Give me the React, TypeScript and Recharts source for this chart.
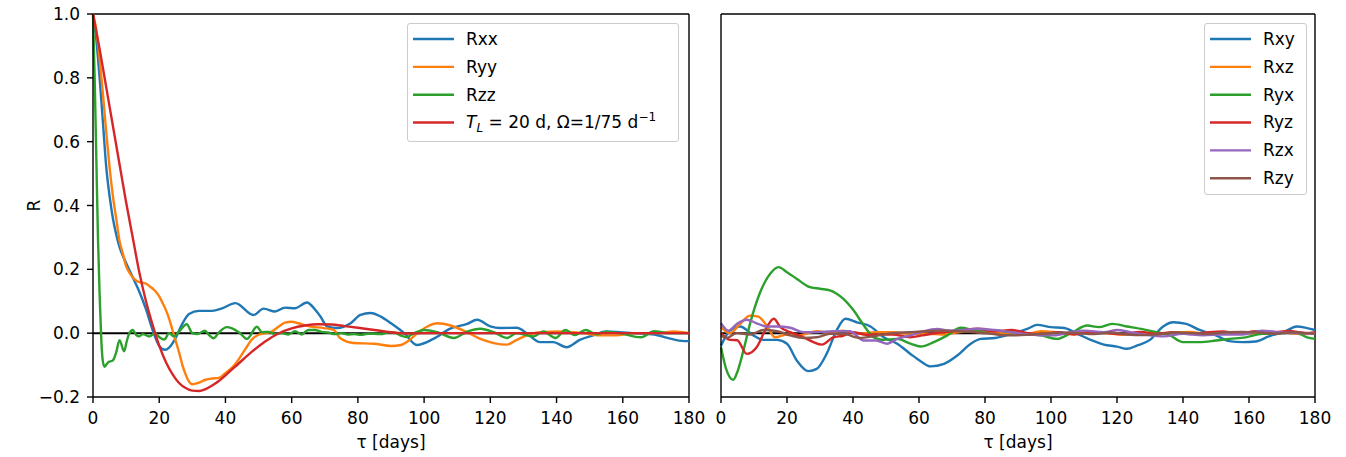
import React from 'react';
import { LineChart, Line, XAxis, YAxis, ReferenceLine, Label } from 'recharts';

const FONT = '"DejaVu Sans", sans-serif';

// ---------- axis ticks ----------
const xTicks = [0, 20, 40, 60, 80, 100, 120, 140, 160, 180];
const yTicks = [-0.2, 0, 0.2, 0.4, 0.6, 0.8, 1.0];

// ---------- left panel: diagonal components ----------
const rxxT = [0,1,2,3,4,5,6,7,8,10,12,14,16,18,20,21.7,23,24.7,27,29,32,36,39,43,48.5,51.5,55,58,61,64.6,67,68.7,70.7,73.7,77.8,80.8,83.8,86.9,90,94,97.8,102.8,107.9,113,116,120,123,128,131,135,139,143,147,151,155,159,163,169.5,173.5,178.6,180];
const rxxR = [1.0,0.92,0.8,0.66,0.52,0.43,0.36,0.31,0.27,0.22,0.175,0.13,0.075,0.01,-0.04,-0.052,-0.045,-0.02,0.03,0.06,0.07,0.07,0.078,0.094,0.057,0.077,0.068,0.08,0.078,0.096,0.075,0.052,0.021,0.016,0.031,0.057,0.063,0.052,0.031,0.0,-0.037,-0.018,0.014,0.029,0.042,0.021,0.016,0.017,0.0,-0.028,-0.028,-0.044,-0.021,-0.007,0.005,0.003,0.0,-0.004,-0.015,-0.025,-0.025];

const ryyT = [0,1,2,3,4,5,6,7,8,9,10,11,12,13,14,15,16,17,18,19,20,21,22,23,24,25,26,27,28,29,30,32,34,36,38,40,42,44,46,48,50,52,54,56,58,60,62,65.7,69.7,72.7,74.7,78.8,84.8,90,93,96,98,101,104,108,113,117,121,125,128,131,135,141,148,153,158,163,170,175.5,180];
const ryyR = [1.0,0.95,0.86,0.75,0.63,0.52,0.43,0.36,0.29,0.25,0.21,0.19,0.175,0.165,0.16,0.158,0.155,0.148,0.14,0.13,0.115,0.095,0.073,0.045,0.01,-0.025,-0.06,-0.1,-0.13,-0.152,-0.16,-0.155,-0.146,-0.142,-0.14,-0.125,-0.108,-0.082,-0.05,-0.02,-0.005,0.0,0.005,0.02,0.033,0.036,0.031,0.021,0.016,0.01,-0.016,-0.031,-0.033,-0.04,-0.037,-0.018,0.0,0.021,0.031,0.024,0.003,-0.018,-0.031,-0.036,-0.021,-0.007,0.003,0.005,0.0,-0.007,-0.007,0.0,0.0,0.005,0.0];

const rzzT = [0,0.5,1,1.5,2,2.5,3,3.5,4.5,6,7,8,9.4,10.2,11,12,13,14,15,16,17,18.7,20,21.5,23,24.5,26,28.3,30,31.5,33.8,35,36.4,38,40.4,42,44.4,46.5,49.5,51,53,55,57,59,61,63,65,67,69,71,73,75,77,79,81,83,85,87,89,91,93,94.7,97,100,104,109,113,117,121,125,128,133,136,139.7,142.7,145.5,148.8,152,155,159,165.5,169.5,174,180];
const rzzR = [1.0,0.8,0.55,0.3,0.12,-0.02,-0.09,-0.105,-0.092,-0.085,-0.06,-0.022,-0.057,-0.025,0.0,0.01,-0.005,-0.01,-0.003,-0.006,-0.01,0.0,-0.012,-0.02,0.0,-0.01,0.005,0.028,0.0,-0.003,0.008,-0.005,-0.016,0.002,0.019,0.015,0.0,-0.018,0.02,0.003,0.004,-0.003,0.0,-0.004,0.006,-0.004,0.01,0.01,0.004,0.002,-0.003,0.0,-0.004,-0.003,-0.005,-0.002,-0.002,-0.003,0.002,0.002,-0.008,-0.012,0.0,0.01,0.003,-0.015,0.005,0.014,0.003,-0.015,0.0,-0.01,0.005,-0.015,0.01,-0.006,0.01,-0.003,0.004,0.0,-0.013,0.006,0.0,0.0];

const modelT = [0,2,4,6,8,10,12,14,16,18,20,22,24,26,28,30,32,34,36,38,40,44,48,52,56,60,64,68,72,76,80,85,90,95,100,120,140,160,180];
const modelR = [1.0,0.89,0.77,0.65,0.53,0.41,0.3,0.19,0.1,0.026,-0.039,-0.09,-0.128,-0.156,-0.172,-0.18,-0.181,-0.175,-0.164,-0.15,-0.132,-0.095,-0.058,-0.026,-0.001,0.015,0.024,0.028,0.027,0.022,0.017,0.01,0.003,-0.001,0.0,0.0,0.0,0.0,0.0];

// ---------- right panel: off-diagonal components ----------
const rxyT = [0,2.7,5.8,9.8,12.9,17,20,23,26.5,29,32,35,37.7,41.2,45.3,49.3,53.4,57.4,60.5,63.5,67.6,71.6,75.7,78.7,83,88,93,95.8,100,104,108,112,116,120,123,126,130,134,137,141,145,150,154,158,162,166,170.5,174.5,177.6,180];
const rxyR = [-0.039,0.008,0.021,-0.007,-0.021,-0.021,-0.033,-0.086,-0.119,-0.112,-0.065,0.008,0.045,0.034,0.021,-0.013,-0.033,-0.065,-0.088,-0.104,-0.096,-0.07,-0.033,-0.018,-0.015,-0.002,0.014,0.026,0.019,0.016,-0.002,-0.021,-0.036,-0.042,-0.049,-0.039,-0.021,0.021,0.034,0.029,0.01,-0.007,-0.025,-0.028,-0.026,-0.01,0.003,0.021,0.016,0.01];

const rxzT = [0,2.7,5.8,8.8,11.3,13.9,16.4,20,24,29,33,37,42,47,52,57,62,67,72,77,82,87,92,97,102,107,112,117,122,127,132,137,142,147,152,157,162,167,172,177,180];
const rxzR = [0.019,0.0,0.029,0.055,0.052,0.023,-0.013,-0.004,-0.006,0.006,0.0,0.008,-0.002,0.003,0.003,-0.002,-0.002,-0.004,0.003,0.008,0.003,0.0,-0.004,0.006,0.002,-0.003,0.004,0.0,-0.005,0.003,-0.002,0.002,0.004,-0.003,0.0,0.003,-0.002,0.004,0.0,-0.003,0.002];

const ryxT = [0,1.5,3.7,5,6.8,8.8,11.9,14.9,17.4,20,23,26.5,30,33,37,40.2,43.3,46.3,49.3,53.4,57.4,60.5,64.5,68.6,72.6,77.7,83,88,93,97,101.8,106,111,114.5,118.5,123,128,132,136,140,145,150,154,159,164,170,174,177.6,180];
const ryxR = [-0.044,-0.11,-0.146,-0.12,-0.054,0.03,0.129,0.186,0.207,0.191,0.17,0.146,0.139,0.134,0.108,0.071,0.024,-0.013,-0.021,-0.018,-0.033,-0.042,-0.028,-0.007,0.017,0.008,0.008,0.003,-0.002,-0.007,-0.018,0.0,0.024,0.019,0.029,0.021,0.012,0.003,-0.007,-0.028,-0.028,-0.023,-0.018,-0.013,-0.002,0.0,0.003,-0.013,-0.018];

const ryzT = [0,2.7,4.9,7.8,10.8,13.9,16,18,21,25,28,30.6,34,37,40,44,47,52,57.4,61,67,72.6,77.7,83,88,93,97,102,107,112,117,122,127,132,137,142,147,152,157,162,167,172,177,180];
const ryzR = [0.0,-0.021,-0.022,-0.065,-0.044,0.019,0.045,0.019,0.003,-0.013,-0.028,-0.036,-0.013,-0.008,0.003,-0.005,-0.005,-0.004,-0.013,-0.007,0.003,0.008,0.014,0.006,0.01,0.0,-0.004,0.003,-0.004,0.004,0.0,-0.003,0.004,-0.002,0.003,-0.003,0.002,0.005,-0.002,0.006,0.002,0.007,0.0,0.002];

const rzxT = [0,2.2,4.8,7.8,10.8,13.9,17,21,25,29,34,39,43.3,47,50.4,53.4,57.4,61.4,65.5,69.6,73.6,77.7,83,88,93,97,101,106,110,116,120,124,130,134,140,146,152,158,164,169,175,180];
const rzxR = [0.031,0.008,0.029,0.042,0.031,0.021,0.021,0.017,0.003,0.003,0.006,0.006,-0.023,-0.023,-0.033,-0.018,-0.007,0.006,0.013,0.008,0.01,0.014,0.01,0.003,-0.004,-0.007,-0.007,0.003,0.008,0.003,0.01,0.003,-0.007,-0.01,-0.002,-0.007,-0.004,-0.004,0.008,0.003,0.0,-0.002];

const rzyT = [0,1.7,4.8,8.8,12.9,17,21,25,29,33,37,42,47,52,57,62,67,72,77,82,87,93,98,103,108,113,118,123,128,133,138,143,148,153,158,163,168,173,178,180];
const rzyR = [-0.007,-0.015,0.0,-0.004,0.01,0.006,-0.007,-0.015,-0.013,-0.002,-0.002,-0.015,-0.008,0.0,0.003,0.006,0.008,0.006,0.003,-0.002,-0.007,-0.005,-0.002,0.002,0.0,-0.003,0.002,-0.004,-0.006,-0.003,0.002,0.0,-0.002,0.003,0.004,0.002,-0.002,0.003,0.0,-0.002];

// ---------- labels & colours ----------
const leftNames = ['Rxx', 'Ryy', 'Rzz', 'model'];
const rightNames = ['Rxy', 'Rxz', 'Ryx', 'Ryz', 'Rzx', 'Rzy'];
const palette = ['#1f77b4', '#ff7f0e', '#2ca02c', '#d62728', '#9467bd', '#8c564b'];

const zip = (t: number[], r: number[]) => t.map((x, i) => ({ t: x, r: r[i] }));

const leftSeries = [zip(rxxT, rxxR), zip(ryyT, ryyR), zip(rzzT, rzzR), zip(modelT, modelR)];
const rightSeries = [zip(rxyT, rxyR), zip(rxzT, rxzR), zip(ryxT, ryxR), zip(ryzT, ryzR), zip(rzxT, rzxR), zip(rzyT, rzyR)];

const fmtY = (v: number) => {
  const s = v.toFixed(1);
  return s.startsWith('-') ? '\u2212' + s.slice(1) : s;
};

const LINE_W = 2.4;
const tickStyle = { fill: '#000', fontSize: 17, fontFamily: FONT };
const axisStroke = { stroke: '#000', strokeWidth: 1.4 };

const XLabel = (props: any) => {
  const vb = props.viewBox || {};
  const x = vb.x + vb.width / 2;
  const y = vb.y + 51;
  return (
    <text x={x} y={y} textAnchor="middle" fontSize={17} fontFamily={FONT} fill="#000">
      {'\u03c4 [days]'}
    </text>
  );
};

const YLabel = (props: any) => {
  const vb = props.viewBox || {};
  const x = vb.x + 7;
  const y = vb.y + vb.height / 2;
  return (
    <text x={x} y={y} transform={`rotate(-90 ${x} ${y})`} textAnchor="middle" fontSize={17} fontFamily={FONT} fill="#000">
      R
    </text>
  );
};

const modelLabel = (
  <span>
    <span style={{ fontStyle: 'italic' }}>T</span>
    <span style={{ fontStyle: 'italic', fontSize: 12, position: 'relative', top: 4 }}>L</span>
    {' = 20 d, \u03a9=1/75 d'}
    <span style={{ fontSize: 12, position: 'relative', top: -7 }}>{'\u22121'}</span>
  </span>
);

function LegendBox(props: { left: number; top: number; width: number; height: number; names: React.ReactNode[]; colors: string[] }) {
  const { left, top, width, height, names, colors } = props;
  return (
    <div
      style={{
        position: 'absolute',
        left,
        top,
        width,
        height,
        boxSizing: 'border-box',
        border: '1px solid #cccccc',
        borderRadius: 3,
        background: 'rgba(255,255,255,0.8)',
        fontFamily: FONT,
        fontSize: 17,
        color: '#000',
      }}
    >
      <svg style={{ position: 'absolute', left: 0, top: 0 }} width={60} height={height}>
        {names.map((_, i) => {
          const cy = 15 + i * 27.85;
          return <line key={i} x1={5} x2={46} y1={cy} y2={cy} stroke={colors[i]} strokeWidth={LINE_W} />;
        })}
      </svg>
      {names.map((n, i) => {
        const cy = 15 + i * 27.85;
        return (
          <div key={i} style={{ position: 'absolute', left: 58, top: cy - 8.2, lineHeight: '17px', whiteSpace: 'nowrap' }}>
            {n}
          </div>
        );
      })}
    </div>
  );
}

function Panel(props: { width: number; margin: any; yWidth: number; showYLabels: boolean; series: { t: number; r: number }[][]; names: string[] }) {
  const { width, margin, yWidth, showYLabels, series, names } = props;
  return (
    <LineChart width={width} height={457} margin={margin}>
      <XAxis
        dataKey="t"
        type="number"
        domain={[0, 180]}
        ticks={xTicks}
        interval={0}
        height={60}
        tickSize={6}
        tickMargin={9}
        tick={tickStyle}
        axisLine={axisStroke}
        tickLine={axisStroke}
        label={<Label content={XLabel} />}
      />
      <YAxis
        type="number"
        domain={[-0.2, 1.0]}
        ticks={yTicks}
        interval={0}
        width={yWidth}
        tickSize={6}
        tickMargin={7}
        tick={showYLabels ? tickStyle : false}
        tickFormatter={fmtY}
        axisLine={axisStroke}
        tickLine={axisStroke}
        label={showYLabels ? <Label content={YLabel} /> : undefined}
      />
      <ReferenceLine y={0} stroke="#000" strokeWidth={2} />
      <ReferenceLine y={1.0} stroke="#000" strokeWidth={1.4} />
      <ReferenceLine x={180} stroke="#000" strokeWidth={1.4} />
      {series.map((d, i) => (
        <Line
          key={names[i]}
          data={d}
          dataKey="r"
          name={names[i]}
          type="monotone"
          stroke={palette[i]}
          strokeWidth={LINE_W}
          dot={false}
          activeDot={false}
          isAnimationActive={false}
        />
      ))}
    </LineChart>
  );
}

export default function App() {
  return (
    <div style={{ position: 'absolute', left: 0, top: 0, width: 1346, height: 457, background: '#fff', fontFamily: FONT }}>
      <div style={{ position: 'absolute', left: 0, top: 0 }}>
        <Panel
          width={712}
          margin={{ top: 14, right: 23, bottom: 0, left: 33 }}
          yWidth={60}
          showYLabels={true}
          series={leftSeries}
          names={leftNames}
        />
      </div>
      <div style={{ position: 'absolute', left: 700, top: 0 }}>
        <Panel
          width={646}
          margin={{ top: 14, right: 31, bottom: 0, left: 11 }}
          yWidth={10}
          showYLabels={false}
          series={rightSeries}
          names={rightNames}
        />
      </div>
      <LegendBox left={407} top={23} width={272} height={119} names={['Rxx', 'Ryy', 'Rzz', modelLabel]} colors={palette.slice(0, 4)} />
      <LegendBox left={1204} top={23} width={103} height={172} names={rightNames} colors={palette} />
    </div>
  );
}
